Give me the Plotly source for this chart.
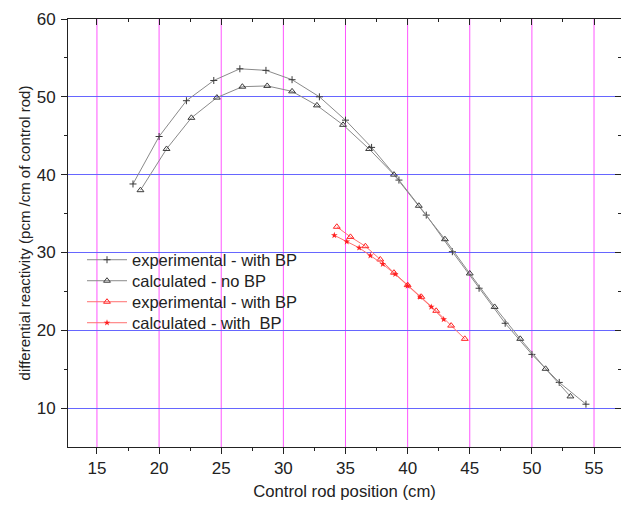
import plotly.graph_objects as go

# Black: experimental - with BP (plus markers)
exp_bp_x = [17.9, 20.0, 22.2, 24.4, 26.5, 28.6, 30.7, 32.9, 35.0, 37.1, 39.3, 41.5, 43.6, 45.75, 47.85, 50.0, 52.2, 54.35]
exp_bp_y = [38.8, 44.9, 49.5, 52.1, 53.6, 53.4, 52.2, 50.0, 47.0, 43.5, 39.3, 34.8, 30.1, 25.4, 20.9, 16.9, 13.3, 10.5]

# Black: calculated - no BP (open triangles)
calc_nobp_x = [18.5, 20.6, 22.6, 24.65, 26.7, 28.7, 30.7, 32.7, 34.8, 36.9, 38.9, 40.9, 43.0, 45.0, 47.0, 49.06, 51.1, 53.1]
calc_nobp_y = [38.0, 43.3, 47.3, 49.9, 51.3, 51.4, 50.7, 48.9, 46.4, 43.3, 40.0, 36.0, 31.7, 27.3, 23.0, 18.9, 15.05, 11.5]

# Red: experimental - with BP (open triangles)
exp_red_x = [34.3, 35.4, 36.6, 37.8, 38.9, 40.0, 41.1, 42.3, 43.5, 44.6]
exp_red_y = [33.3, 32.0, 30.8, 29.1, 27.4, 25.8, 24.3, 22.5, 20.6, 18.9]

# Red: calculated - with BP (stars)
calc_red_x = [34.1, 35.1, 36.1, 37.0, 38.0, 39.0, 40.0, 41.0, 41.9, 42.9]
calc_red_y = [32.2, 31.4, 30.6, 29.6, 28.5, 27.2, 25.7, 24.3, 23.0, 21.4]

x_ticks = [15, 20, 25, 30, 35, 40, 45, 50, 55]
x_minor = [17.5, 22.5, 27.5, 32.5, 37.5, 42.5, 47.5, 52.5]
y_ticks = [10, 20, 30, 40, 50, 60]
y_minor = [15, 25, 35, 45, 55]

X_RANGE = [12.67, 57.17]
Y_RANGE = [5, 60]

FONT = "Liberation Sans, Arial, sans-serif"
GREY_LINE = "#8a8a8a"
GREY_MK = "#3a3a3a"
RED_LINE = "#ff7070"
RED_MK = "#ff2020"
AX = "#222222"
VGRID = "#ff55ff"
HGRID = "#6666ff"

fig = go.Figure()
fig.add_trace(go.Scatter(
    x=exp_bp_x, y=exp_bp_y, mode="lines+markers", name="experimental - with BP",
    line=dict(color=GREY_LINE, width=1), legend="legend",
    marker=dict(symbol="cross-thin", size=5, line=dict(color=GREY_MK, width=1))))
fig.add_trace(go.Scatter(
    x=calc_nobp_x, y=calc_nobp_y, mode="lines+markers", name="calculated - no BP",
    line=dict(color=GREY_LINE, width=1), legend="legend2",
    marker=dict(symbol="triangle-up-open", size=6, color=GREY_MK, line=dict(width=1))))
fig.add_trace(go.Scatter(
    x=exp_red_x, y=exp_red_y, mode="lines+markers", name="experimental - with BP",
    line=dict(color=RED_LINE, width=1), legend="legend3",
    marker=dict(symbol="triangle-up-open", size=6, color=RED_MK, line=dict(width=1))))
fig.add_trace(go.Scatter(
    x=calc_red_x, y=calc_red_y, mode="lines+markers", name="calculated - with  BP",
    line=dict(color=RED_LINE, width=1), legend="legend4",
    marker=dict(symbol="star", size=5, color=RED_MK)))

# empty traces so that the tick-only overlay axes are drawn
for n in (2, 3, 4):
    fig.add_trace(go.Scatter(x=[None], y=[None], xaxis=f"x{n}", yaxis=f"y{n}",
                             showlegend=False, hoverinfo="skip"))

# vertical grid lines at the x tick values (drawn below the data)
for v in x_ticks:
    fig.add_shape(type="line", xref="x", yref="paper", x0=v, x1=v, y0=0, y1=1,
                  line=dict(color=VGRID, width=1), layer="below")

PLOT_TOP, PLOT_BOTTOM, PLOT_LEFT, PLOT_W = 19, 447, 68, 553


def legend_at(center_px):
    return dict(x=(82 - PLOT_LEFT) / PLOT_W, y=(PLOT_BOTTOM - center_px) / (PLOT_BOTTOM - PLOT_TOP),
                xanchor="left", yanchor="middle", bgcolor="rgba(0,0,0,0)",
                font=dict(size=16.5, color="#222222"), itemwidth=40)


def tick_axis(side, vals, direction, length, rng, overlay, anchor, line=False):
    return dict(overlaying=overlay, side=side, anchor=anchor, range=rng, tickvals=vals,
                ticks=direction, ticklen=length, tickcolor=AX, showline=line,
                linecolor=AX, linewidth=1, showticklabels=False, showgrid=False,
                zeroline=False, fixedrange=True)


fig.update_layout(
    template="none",
    width=621, height=508,
    margin=dict(l=68, r=0, t=19, b=61),
    paper_bgcolor="white", plot_bgcolor="white",
    font=dict(family=FONT, color="#222222", size=16),
    showlegend=True,
    legend=legend_at(260),
    legend2=legend_at(281),
    legend3=legend_at(302),
    legend4=legend_at(323),
    xaxis=dict(range=X_RANGE, tickvals=x_ticks, ticks="outside", ticklen=6,
               tickcolor=AX, showline=True, linecolor=AX, linewidth=1,
               showgrid=False, zeroline=False,
               tickfont=dict(size=17),
               title=dict(text="Control rod position (cm)", font=dict(size=16.7), standoff=7)),
    yaxis=dict(range=Y_RANGE, tickvals=y_ticks, ticks="outside", ticklen=6,
               tickcolor=AX, showline=True, linecolor=AX, linewidth=1,
               showgrid=True, gridcolor=HGRID, gridwidth=1, zeroline=False,
               tickfont=dict(size=17), ticklabelstandoff=2,
               title=dict(text="differential reactivity (pcm /cm of control rod)", font=dict(size=15), standoff=2)),
    xaxis2=tick_axis("bottom", x_minor, "outside", 3, X_RANGE, "x", "y"),
    yaxis2=tick_axis("left", y_minor, "outside", 3, Y_RANGE, "y", "x"),
    xaxis3=tick_axis("top", x_ticks, "inside", 6, X_RANGE, "x", "y", line=True),
    yaxis3=tick_axis("right", y_ticks, "inside", 6, Y_RANGE, "y", "x"),
    xaxis4=tick_axis("top", x_minor, "inside", 3, X_RANGE, "x", "y"),
    yaxis4=tick_axis("right", y_minor, "inside", 3, Y_RANGE, "y", "x"),
)

fig.write_html("out.html")
